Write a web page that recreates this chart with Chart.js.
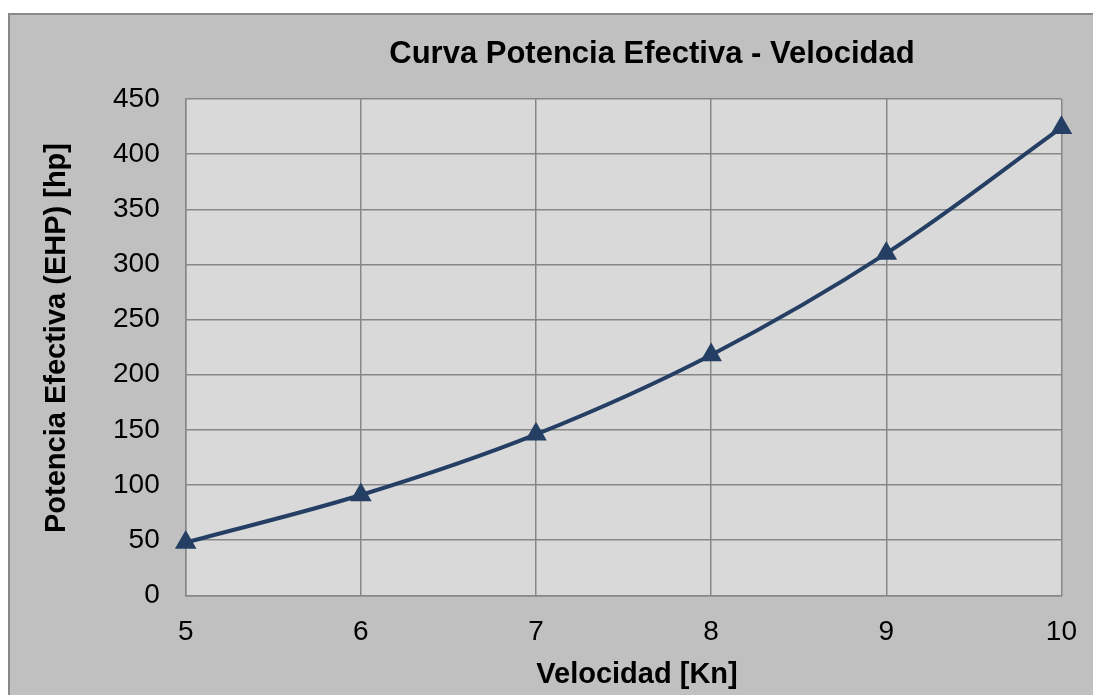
<!DOCTYPE html>
<html>
<head>
<meta charset="utf-8">
<script src="https://cdn.jsdelivr.net/npm/chart.js@4/dist/chart.umd.min.js"></script>
<style>
  html, body { margin: 0; padding: 0; background: #fff; overflow: hidden; }
  #frame {
    position: absolute; left: 8px; top: 13px; width: 1200px; height: 800px;
    background: #c0c0c0; border: 2px solid #898989;
  }
  #wrap { position: absolute; left: 0; top: 0; width: 1097px; height: 695px; }
</style>
</head>
<body>
<div id="frame"></div>
<div id="wrap"><canvas id="myChart"></canvas></div>
<script>
// chart data
const velocidad = [5, 6, 7, 8, 9, 10];
const potencia = [48, 91, 146, 218, 310, 424];

const chartTitle = 'Curva Potencia Efectiva - Velocidad';
const xTitle = 'Velocidad [Kn]';
const yTitle = 'Potencia Efectiva (EHP) [hp]';

const lineColor = '#243f63';
const gridColor = '#878787';
const fontFam = '"Liberation Sans", Arial, sans-serif';

// plot area background + titles
const decor = {
  id: 'decor',
  beforeDraw(chart) {
    const { ctx, chartArea } = chart;
    ctx.save();
    ctx.fillStyle = '#d9d9d9';
    ctx.fillRect(chartArea.left, chartArea.top, chartArea.right - chartArea.left, chartArea.bottom - chartArea.top);
    ctx.restore();
  },
  afterDraw(chart) {
    const { ctx } = chart;
    ctx.save();
    ctx.fillStyle = '#000';
    ctx.textAlign = 'center';
    ctx.textBaseline = 'middle';
    ctx.font = 'bold 31px ' + fontFam;
    ctx.fillText(chartTitle, 652, 54);
    ctx.font = 'bold 29px ' + fontFam;
    ctx.fillText(xTitle, 637, 675);
    ctx.translate(57, 338);
    ctx.rotate(-Math.PI / 2);
    ctx.fillText(yTitle, 0, 0);
    ctx.restore();
  }
};

function initChart(target) {
  const data = {
    datasets: [{
      label: 'EHP',
      data: velocidad.map((v, i) => ({ x: v, y: potencia[i] })),
      borderColor: lineColor,
      backgroundColor: lineColor,
      borderWidth: 4,
      tension: 0.35,
      pointStyle: 'triangle',
      pointRadius: 8.5,
      pointHoverRadius: 8.5,
      clip: false
    }]
  };

  const config = {
    type: 'line',
    data: data,
    plugins: [decor],
    options: {
      responsive: true,
      maintainAspectRatio: false,
      animation: false,
      layout: { padding: { left: 87, right: 28, top: 99, bottom: 26 } },
      plugins: {
        legend: { display: false },
        title: { display: false },
        tooltip: { enabled: false }
      },
      scales: {
        x: {
          type: 'linear',
          min: 5,
          max: 10,
          ticks: { stepSize: 1, color: '#000', padding: 20, font: { size: 28, family: fontFam } },
          grid: { color: gridColor, lineWidth: 1.5, drawTicks: false },
          border: { color: gridColor, width: 1.5 }
        },
        y: {
          min: 0,
          max: 450,
          ticks: { stepSize: 50, color: '#000', padding: 26, font: { size: 28, family: fontFam } },
          grid: { color: gridColor, lineWidth: 1.5, drawTicks: false },
          border: { color: gridColor, width: 1.5 }
        }
      }
    }
  };

  return new Chart(target, config);
}

document.addEventListener('DOMContentLoaded', () => {
  initChart(document.querySelector('#myChart'));
});
</script>
</body>
</html>
